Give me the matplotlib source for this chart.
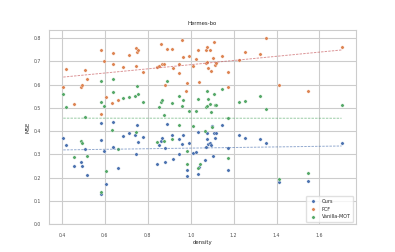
import numpy as np
import matplotlib
matplotlib.use("Agg")
import matplotlib.pyplot as plt
import seaborn as sns

# density / MSE
ours_x = [0.406, 0.419, 0.456, 0.490, 0.493, 0.509, 0.518, 0.580, 0.580, 0.580, 0.596, 0.605,
          0.636, 0.636, 0.661, 0.685, 0.713, 0.742, 0.748, 0.755, 0.745, 0.776, 0.841, 0.850,
          0.863, 0.868, 0.879, 0.879, 0.891, 0.911, 0.915, 0.944, 0.944, 0.961, 0.966, 0.981,
          0.981, 0.994, 1.009, 1.024, 1.033, 1.033, 1.039, 1.066, 1.072, 1.077, 1.077, 1.081,
          1.090, 1.093, 1.100, 1.103, 1.107, 1.112, 1.119, 1.148, 1.173, 1.173, 1.224, 1.252,
          1.322, 1.350, 1.409, 1.548, 1.703]
ours_y = [0.372, 0.342, 0.249, 0.269, 0.249, 0.325, 0.212, 0.435, 0.363, 0.129, 0.316, 0.173,
          0.438, 0.330, 0.243, 0.378, 0.391, 0.385, 0.426, 0.352, 0.300, 0.375, 0.259, 0.339,
          0.358, 0.372, 0.329, 0.267, 0.429, 0.385, 0.280, 0.365, 0.303, 0.346, 0.383, 0.232,
          0.206, 0.348, 0.305, 0.309, 0.398, 0.215, 0.246, 0.275, 0.332, 0.394, 0.368, 0.346,
          0.351, 0.342, 0.424, 0.293, 0.392, 0.369, 0.394, 0.428, 0.326, 0.235, 0.382, 0.372,
          0.368, 0.349, 0.182, 0.185, 0.348]

pcf_x = [0.406, 0.419, 0.456, 0.490, 0.493, 0.509, 0.518, 0.580, 0.582, 0.596, 0.605, 0.636,
         0.636, 0.635, 0.661, 0.685, 0.713, 0.744, 0.748, 0.755, 0.747, 0.776, 0.841, 0.851,
         0.863, 0.868, 0.877, 0.879, 0.891, 0.911, 0.915, 0.944, 0.944, 0.961, 0.966, 0.981,
         0.980, 0.994, 1.009, 1.024, 1.033, 1.039, 1.069, 1.072, 1.077, 1.077, 1.081, 1.090,
         1.093, 1.103, 1.107, 1.112, 1.119, 1.148, 1.173, 1.173, 1.224, 1.252, 1.322, 1.350,
         1.409, 1.548, 1.703]
pcf_y = [0.589, 0.667, 0.516, 0.591, 0.600, 0.664, 0.622, 0.750, 0.475, 0.700, 0.546, 0.735,
         0.688, 0.521, 0.535, 0.677, 0.728, 0.755, 0.740, 0.750, 0.680, 0.652, 0.675, 0.678,
         0.773, 0.690, 0.686, 0.597, 0.751, 0.754, 0.671, 0.687, 0.649, 0.793, 0.718, 0.605,
         0.574, 0.721, 0.678, 0.711, 0.750, 0.612, 0.691, 0.747, 0.760, 0.697, 0.671, 0.747,
         0.660, 0.715, 0.782, 0.685, 0.694, 0.721, 0.652, 0.591, 0.704, 0.740, 0.733, 0.800,
         0.598, 0.571, 0.761]

mot_x = [0.406, 0.419, 0.456, 0.487, 0.493, 0.509, 0.518, 0.580, 0.580, 0.580, 0.596, 0.605,
         0.636, 0.636, 0.633, 0.661, 0.685, 0.713, 0.742, 0.748, 0.755, 0.744, 0.776, 0.841,
         0.850, 0.863, 0.868, 0.877, 0.877, 0.891, 0.911, 0.911, 0.944, 0.944, 0.961, 0.966,
         0.981, 0.981, 0.994, 1.009, 1.024, 1.033, 1.033, 1.041, 1.067, 1.072, 1.077, 1.077,
         1.081, 1.090, 1.093, 1.101, 1.107, 1.112, 1.119, 1.148, 1.173, 1.173, 1.224, 1.252,
         1.322, 1.350, 1.409, 1.548, 1.703]
mot_y = [0.558, 0.502, 0.289, 0.356, 0.348, 0.459, 0.292, 0.617, 0.527, 0.139, 0.508, 0.227,
         0.622, 0.569, 0.405, 0.325, 0.542, 0.546, 0.552, 0.595, 0.558, 0.395, 0.525, 0.353,
         0.503, 0.525, 0.534, 0.469, 0.359, 0.615, 0.522, 0.365, 0.552, 0.428, 0.509, 0.534,
         0.313, 0.258, 0.488, 0.424, 0.488, 0.539, 0.242, 0.260, 0.399, 0.503, 0.572, 0.509,
         0.536, 0.518, 0.484, 0.416, 0.558, 0.512, 0.514, 0.579, 0.455, 0.285, 0.524, 0.528,
         0.549, 0.497, 0.195, 0.219, 0.511]

sns.set_style("whitegrid")
pal = sns.color_palette("deep")
plt.rcParams["font.family"] = ["DejaVu Sans"]

fig, ax = plt.subplots(figsize=(3.95, 2.52), dpi=100)
fig.subplots_adjust(left=0.125, right=0.9, bottom=0.11, top=0.88)

kw = dict(s=6, edgecolors="white", linewidths=0.25)
ax.scatter(ours_x, ours_y, color=pal[0], label="Ours", **kw)
ax.scatter(pcf_x, pcf_y, color=pal[1], label="PCF", **kw)
ax.scatter(mot_x, mot_y, color=pal[2], label="Vanilla-MOT", **kw)

# linear trend per method
for xs, ys, c in [(ours_x, ours_y, "#4c72b0"), (pcf_x, pcf_y, "#c44e52"), (mot_x, mot_y, "#55a868")]:
    xs = np.array(xs); ys = np.array(ys)
    p = np.poly1d(np.polyfit(xs, ys, 1))
    xl = np.array([xs.min(), xs.max()])
    ax.plot(xl, p(xl), "--", color=c, lw=0.7, alpha=0.6, dashes=(2.5, 1.2))

ax.set_ylim(0, 0.833)
ax.set_title("Hermes-bo", fontsize=3.9, pad=4, color="0.15")
ax.set_xlabel("density", fontsize=3.9, labelpad=2, color="0.15")
ax.set_ylabel("MSE", fontsize=3.9, labelpad=2, color="0.15")
ax.tick_params(labelsize=3.3, pad=2.5, colors="0.3")
for s in ax.spines.values():
    s.set_linewidth(0.8)
ax.grid(lw=0.8)
ax.legend(loc="lower right", fontsize=3.5, markerscale=1.0, borderpad=0.5,
          handletextpad=0.8, labelspacing=0.6, frameon=True, edgecolor="0.85")

fig.savefig("out.png", dpi=100)
